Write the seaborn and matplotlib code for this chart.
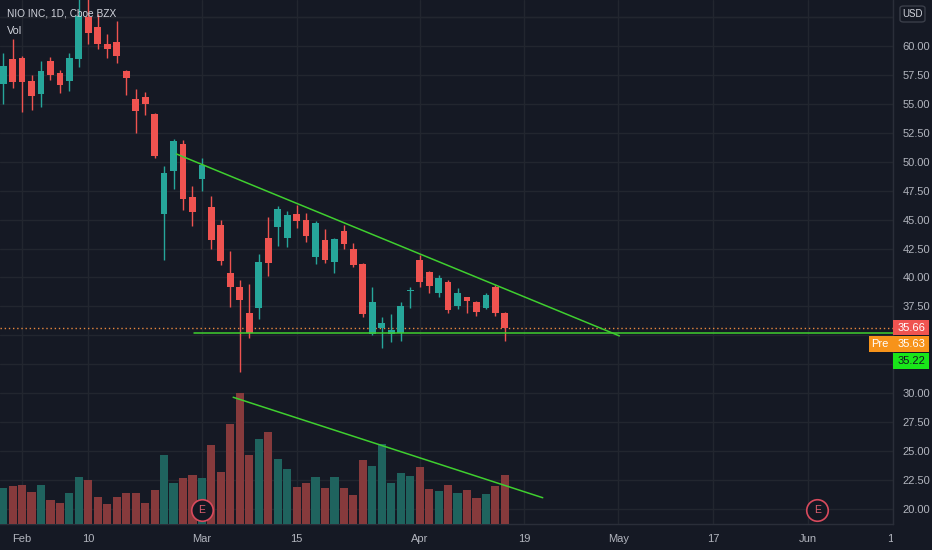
import matplotlib
matplotlib.use("Agg")
import matplotlib.pyplot as plt
import matplotlib.transforms as mtransforms
from matplotlib.patches import Rectangle, FancyBboxPatch
import numpy as np
import pandas as pd
import seaborn as sns

# daily candles, Jan 28 .. Apr 15
opens = [56.7, 58.9, 59.0, 57.0, 55.85, 58.7, 57.65, 57.0, 58.85, 62.5,
         61.6, 60.2, 60.35, 57.85, 55.4, 55.6, 54.1, 45.5, 49.2, 51.5,
         46.95, 48.5, 46.05, 44.55, 40.4, 39.2, 36.9, 37.4, 43.45, 44.35,
         43.45, 45.5, 44.95, 41.8, 43.25, 41.35, 44.0, 42.5, 41.15, 35.15,
         35.6, 35.15, 35.2, 38.85, 41.5, 40.5, 38.7, 39.65, 37.5, 38.3,
         37.9, 37.35, 39.2, 36.95]
highs = [59.4, 60.6, 59.1, 57.45, 58.7, 59.05, 57.95, 59.4, 66.0, 65.0,
         62.75, 61.0, 62.15, 57.95, 56.3, 56.0, 54.25, 49.6, 52.0, 51.85,
         47.9, 50.3, 47.05, 45.0, 42.3, 39.8, 39.45, 42.0, 45.2, 46.15,
         45.7, 46.3, 45.55, 44.85, 44.2, 43.4, 44.5, 43.0, 41.25, 39.15,
         36.6, 36.8, 37.9, 39.2, 41.9, 40.6, 40.25, 39.8, 39.05, 38.35,
         38.0, 38.65, 39.35, 37.0]
lows = [55.0, 56.4, 54.3, 54.45, 54.75, 57.05, 55.9, 56.1, 58.15, 60.2,
        59.7, 59.0, 58.55, 55.75, 52.5, 54.0, 50.3, 41.55, 47.6, 45.85,
        44.45, 47.45, 42.5, 41.05, 37.45, 31.85, 34.8, 36.45, 40.15, 42.75,
        42.65, 44.25, 43.1, 41.2, 41.25, 40.4, 42.5, 40.9, 36.55, 35.0,
        33.9, 34.45, 34.55, 37.4, 39.15, 38.65, 38.3, 36.9, 37.3, 36.9,
        36.7, 37.25, 36.7, 34.5]
closes = [58.25, 56.9, 56.85, 55.7, 57.85, 57.5, 56.6, 58.95, 62.6, 61.15,
          60.15, 59.75, 59.15, 57.25, 54.35, 54.95, 50.5, 49.0, 51.75, 46.75,
          45.65, 49.7, 43.2, 41.45, 39.2, 38.05, 35.22, 41.3, 41.25, 45.95,
          45.4, 44.85, 43.6, 44.7, 41.5, 43.3, 42.85, 41.05, 36.8, 37.9,
          36.05, 35.45, 37.5, 38.95, 39.6, 39.25, 39.95, 37.2, 38.65, 38.0,
          37.05, 38.45, 36.9, 35.66]
volume = [107, 113, 115, 94, 115, 70, 62, 92, 140, 130,
          80, 58, 80, 92, 92, 63, 100, 205, 120, 137,
          145, 137, 232, 155, 295, 387, 205, 252, 273, 193,
          163, 108, 122, 138, 105, 140, 105, 85, 188, 170,
          235, 120, 152, 142, 167, 103, 97, 115, 92, 100,
          78, 90, 113, 145]

tick_idx = [2, 9, 21, 31, 44, 55, 65, 75, 85, 94]
tick_labels = ["Feb", "10", "Mar", "15", "Apr", "19", "May", "17", "Jun", "14"]
earnings_idx = [21, 86]

price_ticks = np.arange(20, 62.6, 2.5)
hidden_ticks = [32.5, 35.0]  # covered by the price labels

# drawn lines (bar index, price)
resist_idx = [18.3, 65.1]
resist_price = [50.67, 34.95]
support_idx = [20.2, 120]
support_price = 35.22
vol_trend_idx = [24.3, 57.0]
vol_trend_price = [29.65, 20.97]

title = "NIO INC, 1D, Cboe BZX"
last_price = 35.66
pre_price = 35.63

BG = "#151924"
GRID = "#22262f"
BORDER = "#2a2e39"
TXT = "#b2b5be"
UP = "#26a69a"
DOWN = "#ef5350"
VOL_UP = "#1f635e"
VOL_DOWN = "#863a3c"
GREEN = "#3fcf2f"

sns.set_theme(style="dark", rc={
    "axes.facecolor": BG,
    "figure.facecolor": BG,
    "grid.color": GRID,
    "axes.edgecolor": BORDER,
})
plt.rcParams["font.family"] = ["Liberation Sans", "DejaVu Sans"]

fig = plt.figure(figsize=(9.32, 5.5), dpi=100)
ax = fig.add_axes([0, 26 / 550, 893 / 932, 524 / 550])
ax2 = ax.twinx()

idx = np.arange(len(opens))
o = np.array(opens)
h = np.array(highs)
l = np.array(lows)
c = np.array(closes)
up = c >= o
colors = np.where(up, UP, DOWN)

# candles
ax.vlines(idx, l, h, colors=colors, lw=1, zorder=3)
body_lo = np.minimum(o, c)
body_h = np.maximum(np.abs(c - o), 0.1)
ax.bar(idx, body_h, bottom=body_lo, width=0.72, color=colors, lw=0, zorder=3)

# volume pane
df = pd.DataFrame({"idx": idx, "volume": volume, "dir": np.where(up, "up", "down")})
sns.barplot(data=df, x="idx", y="volume", hue="dir",
            palette={"up": VOL_UP, "down": VOL_DOWN},
            native_scale=True, dodge=False, width=0.86, saturation=1,
            legend=False, linewidth=0, ax=ax2)
ax2.set_ylim(0, max(volume) / 0.25)
ax2.set_yticks([])
ax2.set_ylabel("")
ax2.set_xlabel("")
ax2.grid(False)
for s in ax2.spines.values():
    s.set_visible(False)

# lines
ax.plot(resist_idx, resist_price, color=GREEN, lw=1.1, zorder=4)
ax.plot(support_idx, [support_price] * 2, color=GREEN, lw=1.1, zorder=4)
ax.axhline(last_price, color="#e8873f", lw=1, ls=(0, (1, 2)), zorder=2)
ax2.plot(vol_trend_idx, vol_trend_price, color=GREEN, lw=1.1,
         transform=ax.transData, zorder=5)

# earnings markers
ax2.scatter(earnings_idx, [0.027] * len(earnings_idx), s=240,
            transform=ax2.get_xaxis_transform(), facecolor="#131722",
            edgecolor="#d94a5d", lw=1.2, zorder=6, clip_on=False)
for e in earnings_idx:
    ax2.text(e, 0.027, "E", transform=ax2.get_xaxis_transform(), color="#e06070",
             ha="center", va="center", fontsize=7.5, zorder=7)

# axes
ax.set_xlim(-0.33, 93.97)
ax.set_ylim(18.70, 63.97)
ax.set_xticks(tick_idx)
ax.set_xticklabels(tick_labels)
ax.set_yticks(list(price_ticks) + [62.5])
ax.set_yticklabels(["" if v in hidden_ticks else f"{v:.2f}" for v in price_ticks] + [""])
ax.yaxis.tick_right()
ax.tick_params(axis="y", length=0, pad=7, labelcolor=TXT, labelsize=8)
ax.tick_params(axis="x", length=0, pad=7, labelcolor=TXT, labelsize=8)
ax.grid(True, color=GRID, lw=1)
ax.set_axisbelow(True)
for name, s in ax.spines.items():
    s.set_visible(name in ("right", "bottom"))
    s.set_color(BORDER)
    s.set_linewidth(1)

clip = mtransforms.TransformedBbox(mtransforms.Bbox([[0, -0.2], [1, 1]]), ax.transAxes)
for lbl in ax.get_xticklabels():
    lbl.set_clip_box(clip)
    lbl.set_clip_on(True)

# price labels on the right scale
trans = mtransforms.blended_transform_factory(fig.transFigure, ax.transData)
bh = 1.34
step = 1.43
boxes = [
    (893, 929, last_price, DOWN, f"{last_price:.2f}", "white"),
    (869, 929, last_price - step, "#f7931a", f"{pre_price:.2f}", "white"),
    (893, 929, last_price - 2 * step, "#19e619", f"{support_price:.2f}", "#131722"),
]
for x0, x1, yc, col, txt, tcol in boxes:
    fig.add_artist(Rectangle((x0 / 932, yc - bh / 2), (x1 - x0) / 932, bh,
                             transform=trans, color=col, lw=0, zorder=5))
    fig.text(911 / 932, yc, txt, transform=trans, color=tcol, ha="center",
             va="center", fontsize=8, zorder=6)
fig.text(880 / 932, last_price - step, "Pre", transform=trans, color="white",
         ha="center", va="center", fontsize=8, zorder=6)

fig.add_artist(FancyBboxPatch((900 / 932, 1 - 22 / 550), 25 / 932, 16 / 550,
                              boxstyle="round,pad=0,rounding_size=0.004",
                              transform=fig.transFigure, facecolor=BG,
                              edgecolor="#3a3e49", lw=1, zorder=5))
fig.text(912.5 / 932, 1 - 14 / 550, "USD", color="#d1d4dc", ha="center",
         va="center", fontsize=7, zorder=6)

fig.text(7 / 932, 1 - 13 / 550, title, color="#d1d4dc", ha="left",
         va="center", fontsize=7.3)
fig.text(7 / 932, 1 - 31 / 550, "Vol", color="#d1d4dc", ha="left",
         va="center", fontsize=7.8)

fig.savefig("out.png", dpi=100, facecolor=BG)
plt.close(fig)
